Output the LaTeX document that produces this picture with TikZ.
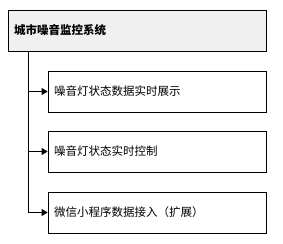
\documentclass[tikz,border=0pt]{standalone}
\usepackage{fontspec}
\newfontfamily\cjk{Noto Sans CJK SC}
\usetikzlibrary{arrows.meta, positioning}

\begin{document}
\begin{tikzpicture}[
  x=1pt, y=-1pt,
  every node/.style={font=\cjk\fontsize{11.5}{13}\selectfont},
  rootbox/.style={draw,thick,fill=gray!12,minimum width=258pt,minimum height=41pt,text width=246pt,align=left,inner sep=6pt},
  itembox/.style={draw,thick,fill=white,minimum width=218pt,minimum height=41pt,text width=206pt,align=left,inner sep=6pt},
  link/.style={-{Triangle[length=6pt,width=7pt]},thick}
]
\useasboundingbox (0,0) rectangle (283,243);
% root
\node[rootbox,font=\cjk\bfseries\fontsize{11.5}{13}\selectfont] (sys) at (137,30.5) {城市噪音监控系统};
% items
\node[itembox] (show) at (157,91.5)  {噪音灯状态数据实时展示};
\node[itembox] (ctrl) at (157,151.5) {噪音灯状态实时控制};
\node[itembox] (wx)   at (157,212.5) {微信小程序数据接入（扩展）};
% trunk
\coordinate (top) at (28,51);
\draw[link] (top) |- (wx.west);
\draw[link] (top |- show.west) -- (show.west);
\draw[link] (top |- ctrl.west) -- (ctrl.west);
\end{tikzpicture}
\end{document}
